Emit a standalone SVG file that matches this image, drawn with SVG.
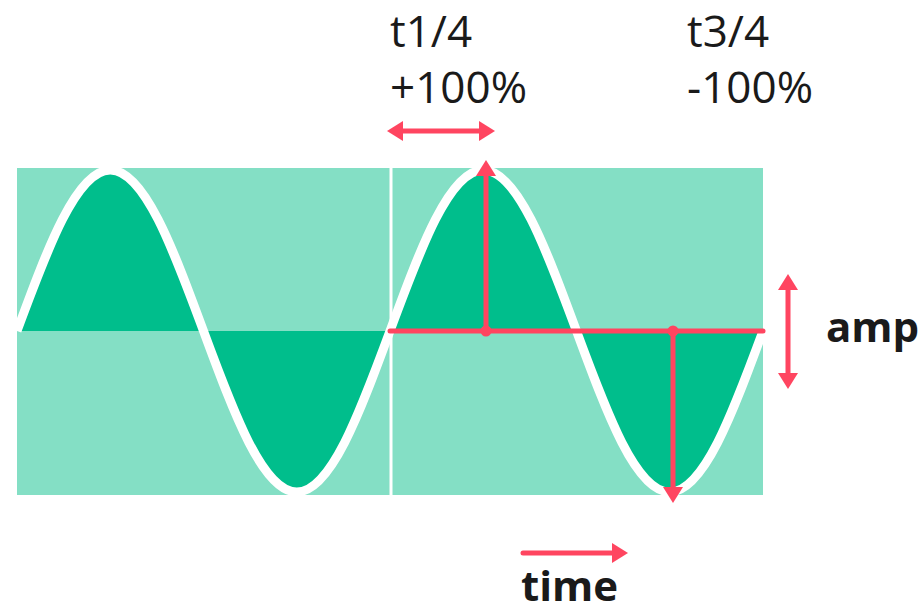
<svg xmlns="http://www.w3.org/2000/svg" width="923" height="613" viewBox="0 0 923 613">
<style>
.lbl{font-family:"Open Sans","DejaVu Sans",sans-serif;font-size:44px;fill:#1a1a1a}
.bold{font-family:"Open Sans","DejaVu Sans",sans-serif;font-size:42px;font-weight:bold;fill:#1a1a1a}
.red{stroke:#FF4560;stroke-width:5;fill:none;stroke-linecap:round}
.arr{marker-end:url(#head)}
.dbl{marker-start:url(#head);marker-end:url(#head)}
</style>
<defs>
<marker id="head" viewBox="0 0 16 20" refX="2" refY="10" markerWidth="16" markerHeight="20" markerUnits="userSpaceOnUse" orient="auto-start-reverse">
<path d="M0,0 L16,10 L0,20 Z" fill="#FF4560"/>
</marker>
</defs>
<g id="wave">
<rect x="17" y="168" width="746" height="327" fill="#84DFC5"/>
<path d="M17,331 C47.41,248.52 76.5,170 110.25,170 C144,170 173.09,248.52 203.5,331 C233.91,413.48 263,492 296.75,492 C330.5,492 359.59,413.48 390,331 C420.41,248.52 449.5,170 483.25,170 C517,170 546.09,248.52 576.5,331 C606.91,413.48 636,492 669.75,492 C703.5,492 732.59,413.48 763,331 Z" fill="#00BE8C"/>
<line x1="391" y1="168" x2="391" y2="495" stroke="#FFFFFF" stroke-width="3"/>
<path d="M17,331 C47.41,248.52 76.5,170 110.25,170 C144,170 173.09,248.52 203.5,331 C233.91,413.48 263,492 296.75,492 C330.5,492 359.59,413.48 390,331 C420.41,248.52 449.5,170 483.25,170 C517,170 546.09,248.52 576.5,331 C606.91,413.48 636,492 669.75,492 C703.5,492 732.59,413.48 763,331" fill="none" stroke="#FFFFFF" stroke-width="9"/>
</g>
<g id="connectors">
<line class="red" x1="390" y1="331" x2="763" y2="331"/>
<line class="red arr" x1="486" y1="331" x2="486" y2="174"/>
<line class="red arr" x1="673" y1="331" x2="673" y2="489"/>
<circle cx="486" cy="331" r="5.5" fill="#FF4560"/>
<circle cx="673" cy="331" r="5.5" fill="#FF4560"/>
<line class="red dbl" x1="401" y1="131" x2="481" y2="131"/>
<line class="red dbl" x1="788" y1="288" x2="788" y2="375"/>
<line class="red arr" x1="523" y1="553" x2="614" y2="553"/>
</g>
<g id="labels">
<text class="lbl" x="390" y="47">t1/4</text>
<text class="lbl" x="390" y="103">+100%</text>
<text class="lbl" x="687" y="47">t3/4</text>
<text class="lbl" x="687" y="103">-100%</text>
<text class="bold" x="826" y="342">amp</text>
<text class="bold" x="521" y="601">time</text>
</g>
</svg>
